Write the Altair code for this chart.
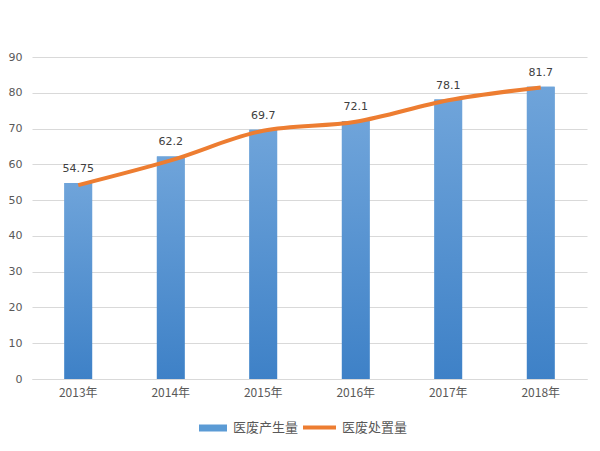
import altair as alt
import pandas as pd

years = ["2013年", "2014年", "2015年", "2016年", "2017年", "2018年"]
produced = [54.75, 62.2, 69.7, 72.1, 78.1, 81.7]
disposed = [54.2, 61.1, 69.4, 71.9, 77.9, 81.5]
labels = ["54.75", "62.2", "69.7", "72.1", "78.1", "81.7"]

df = pd.DataFrame({"year": years, "produced": produced, "disposed": disposed, "label": labels})

FONT = "DejaVu Sans"
CJK = "Noto Sans CJK SC"

x_axis = alt.Axis(labelAngle=0, labelFont=CJK, labelFontSize=12, labelColor="#595959",
                  domain=True, domainColor="#d9d9d9", domainWidth=1, ticks=False, labelPadding=8,
                  grid=False)
x = alt.X("year:N", sort=years, title=None,
          scale=alt.Scale(paddingInner=0.7, paddingOuter=0.35), axis=x_axis)
y_axis = alt.Axis(values=list(range(0, 100, 10)), labelFont=FONT, labelFontSize=11, labelColor="#595959",
                  domain=False, ticks=False, labelPadding=10, gridColor="#d9d9d9", gridWidth=1, title=None,
                  labelOverlap=False, tickCount=10)
yscale = alt.Scale(domain=[0, 90], nice=False)


def Y(field):
    return alt.Y(field, scale=yscale, axis=y_axis, title=None)


base = alt.Chart(df)

bar_legend = base.mark_bar().encode(
    x=x,
    y=Y("produced:Q"),
    color=alt.Color("k:N", scale=alt.Scale(range=["#5b9bd5"]), title=None,
                    legend=alt.Legend(orient="none", legendX=167, legendY=357, title=None,
                                      symbolType="M-1,-0.25H1V0.25H-1Z", symbolSize=784,
                                      labelFont=CJK, labelFontSize=13, labelColor="#595959",
                                      symbolStrokeWidth=0, labelOffset=6)),
).transform_calculate(k="'医废产生量'")

bar_grad = base.mark_bar(
    color=alt.Gradient(gradient="linear", x1=0, y1=0, x2=0, y2=1,
                       stops=[alt.GradientStop(color="#6fa4da", offset=0),
                              alt.GradientStop(color="#3e81c7", offset=1)])
).encode(x=x, y=Y("produced:Q"))

line = base.mark_line(strokeWidth=4, interpolate="monotone").encode(
    x=x,
    y=Y("disposed:Q"),
    stroke=alt.Stroke("k:N", scale=alt.Scale(range=["#ed7d31"]), title=None,
                      legend=alt.Legend(orient="none", legendX=269, legendY=352, title=None,
                                        symbolType="stroke", symbolSize=1089, symbolStrokeWidth=4,
                                        labelFont=CJK, labelFontSize=13, labelColor="#595959",
                                        labelOffset=4)),
).transform_calculate(k="'医废处置量'")

text = base.mark_text(dy=-14, font=FONT, fontSize=11, color="#404040").encode(
    x=x, y=Y("produced:Q"), text="label:N")

chart = alt.layer(bar_legend, bar_grad, line, text).resolve_scale(
    color="independent", stroke="independent"
).properties(
    width=555, height=322, padding={"left": 0, "top": 43, "right": 5, "bottom": 5},
    background="white"
).configure_view(stroke="transparent", strokeWidth=0).configure_axisY(
    domain=False, ticks=False
).configure_axisX(grid=False)

chart.save("out.html", embed_options={"renderer": "svg", "actions": False})
